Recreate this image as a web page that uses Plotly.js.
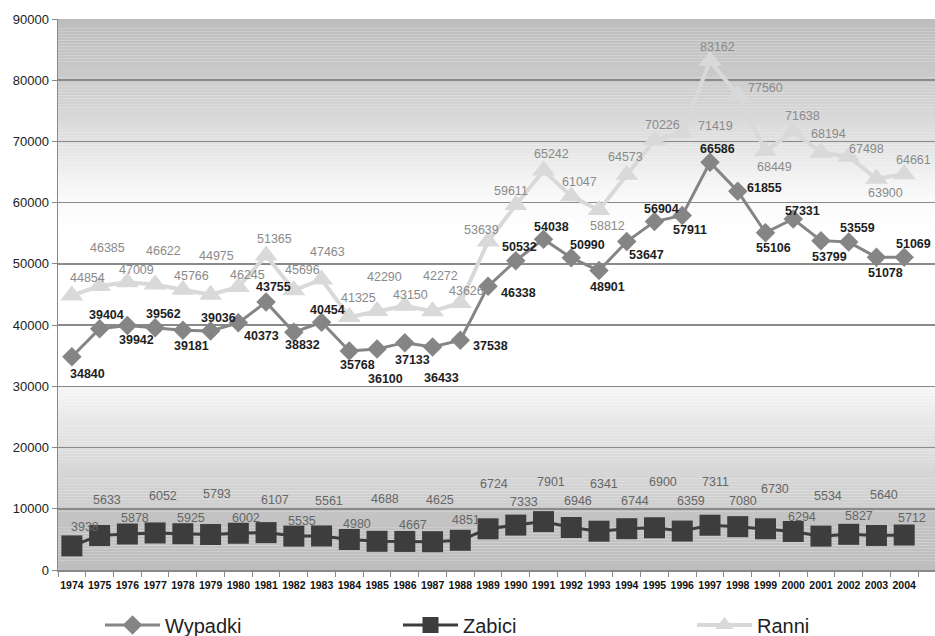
<!DOCTYPE html>
<html>
<head>
<meta charset="utf-8">
<script src="https://cdn.plot.ly/plotly-3.0.1.min.js"></script>
<style>html,body{margin:0;padding:0;background:#fff;}#chart{width:935px;height:636px;}</style>
</head>
<body>
<div id="chart"></div>
<script>
// ---- data ----
var years = ["1974","1975","1976","1977","1978","1979","1980","1981","1982","1983","1984","1985","1986","1987","1988","1989","1990","1991","1992","1993","1994","1995","1996","1997","1998","1999","2000","2001","2002","2003","2004"];
var wypadki = [34840,39404,39942,39562,39181,39036,40373,43755,38832,40454,35768,36100,37133,36433,37538,46338,50532,54038,50990,48901,53647,56904,57911,66586,61855,55106,57331,53799,53559,51078,51069];
var zabici = [3938,5633,5878,6052,5925,5793,6002,6107,5535,5561,4980,4688,4667,4625,4851,6724,7333,7901,6946,6341,6744,6900,6359,7311,7080,6730,6294,5534,5827,5640,5712];
var ranni = [44854,46385,47009,46622,45766,44975,46245,51365,45696,47463,41325,42290,43150,42272,43626,53639,59611,65242,61047,58812,64573,70226,71419,83162,77560,68449,71638,68194,67498,63900,64661];
var seriesNames = ["Wypadki","Zabici","Ranni"];

// ---- label placement (pixel offsets from each marker) ----
var wDx = [16,7,9,8,9,8,23,7,9,6,8,8,8,9,30,30,4,8,16,8,20,7,8,8,27,8,9,9,9,9,9];
var wDy = [17,-14,15,-14,16,-13,13,-15,13,-12,14,30,17,31,6,7,-14,-12,-13,16,13,-13,15,-13,-3,15,-8,16,-14,16,-13];
var zDx = [13,7,8,8,8,6,8,9,8,7,8,8,8,7,6,6,8,7,7,5,8,8,9,6,5,10,9,7,10,8,8];
var zDy = [-19,-36,-16,-37,-16,-41,-15,-33,-15,-35,-16,-42,-16,-42,-20,-45,-23,-40,-26,-47,-28,-46,-30,-43,-26,-40,-14,-40,-18,-40,-17];
var rDx = [16,8,9,8,9,6,9,8,9,6,9,7,6,8,6,-7,-5,8,8,8,-1,8,33,8,28,9,9,8,18,9,9];
var rDy = [-17,-38,-12,-34,-14,-39,-12,-17,-20,-27,-19,-34,-11,-35,-12,-12,-14,-17,-14,16,-18,-15,-7,-14,-7,16,-15,-19,-8,14,-14];

var cW = '#858585', cZ = '#3d3d3d', cR = '#d9d9d9';

var traces = [
  {x: years, y: ranni, name: seriesNames[2], type: 'scatter', mode: 'lines+markers',
   line: {color: cR, width: 4}, marker: {symbol: 'triangle-up', size: 20, color: cR}, legend: 'legend3', cliponaxis: false},
  {x: years, y: wypadki, name: seriesNames[0], type: 'scatter', mode: 'lines+markers',
   line: {color: cW, width: 3}, marker: {symbol: 'diamond', size: 15, color: cW}, legend: 'legend', cliponaxis: false},
  {x: years, y: zabici, name: seriesNames[1], type: 'scatter', mode: 'lines+markers',
   line: {color: cZ, width: 3}, marker: {symbol: 'square', size: 21, color: cZ}, legend: 'legend2', cliponaxis: false}
];

// ---- labels ----
var annotations = [];
function addLabels(vals, dx, dy, color, bold) {
  for (var i = 0; i < years.length; i++) {
    annotations.push({x: i, y: vals[i], xref: 'x', yref: 'y',
      text: bold ? '<b>' + vals[i] + '</b>' : String(vals[i]),
      showarrow: false, xshift: dx[i], yshift: -dy[i], xanchor: 'center', yanchor: 'middle',
      font: {family: 'Liberation Sans, Arial, sans-serif', size: 12.5, color: color}});
  }
}
addLabels(ranni, rDx, rDy, '#8a8a8a', false);
addLabels(zabici, zDx, zDy, '#666666', false);
addLabels(wypadki, wDx, wDy, '#1e1e1e', true);

// ---- background gradient bands ----
var stops = [[0,190],[10000,196],[10001,204],[20000,222],[30000,246],[30001,255],[55000,255],[60000,250],[65000,240],[70000,225],[80000,203],[90000,189]];
function grayAt(v) {
  for (var i = 1; i < stops.length; i++) {
    if (v <= stops[i][0]) {
      var a = stops[i-1], b = stops[i];
      var t = (v - a[0]) / (b[0] - a[0]);
      return Math.round(a[1] + t * (b[1] - a[1]));
    }
  }
  return stops[stops.length-1][1];
}
var shapes = [];
var step = 500;
for (var v = 0; v < 90000; v += step) {
  var g = grayAt(v + step/2);
  shapes.push({type: 'rect', xref: 'paper', yref: 'y', x0: 0, x1: 1, y0: v, y1: v + step,
    fillcolor: 'rgb(' + g + ',' + g + ',' + g + ')', line: {width: 0}, layer: 'below'});
}

function px2paperX(px) { return (px - 58) / 877; }
var legFont = {family: 'Liberation Sans, Arial, sans-serif', size: 20, color: '#222222'};
function legendAt(px) {
  return {orientation: 'h', yanchor: 'middle', y: -0.1, xanchor: 'left', x: px2paperX(px),
    bgcolor: 'rgba(0,0,0,0)', font: legFont, itemwidth: 55, borderwidth: 0};
}

var layout = {
  width: 935, height: 636,
  margin: {l: 58, r: 0, t: 19, b: 66, autoexpand: false},
  paper_bgcolor: '#ffffff', plot_bgcolor: '#ffffff',
  showlegend: true,
  xaxis: {type: 'category', range: [-0.5, 31.11], tickson: 'boundaries', ticks: 'outside', ticklen: 5,
    tickcolor: '#888888', showline: true, linecolor: '#888888', linewidth: 1.5, showgrid: false, tickangle: 0,
    ticklabelstandoff: 5,
    tickfont: {family: 'Liberation Sans, Arial, sans-serif', size: 10.5, color: '#111111', weight: 'bold'},
    fixedrange: true, automargin: false},
  yaxis: {range: [0, 90000], dtick: 10000, tickformat: 'd', ticks: 'outside', ticklen: 5, tickcolor: '#888888',
    showline: true, linecolor: '#888888', linewidth: 1.5, gridcolor: '#8a8a8a', gridwidth: 1.5, zeroline: false,
    tickfont: {family: 'Liberation Sans, Arial, sans-serif', size: 13, color: '#222222'}, fixedrange: true, automargin: false},
  legend: legendAt(100),
  legend2: legendAt(398),
  legend3: legendAt(692),
  shapes: shapes,
  annotations: annotations
};

Plotly.newPlot('chart', traces, layout, {staticPlot: true, displayModeBar: false});
</script>
</body>
</html>
